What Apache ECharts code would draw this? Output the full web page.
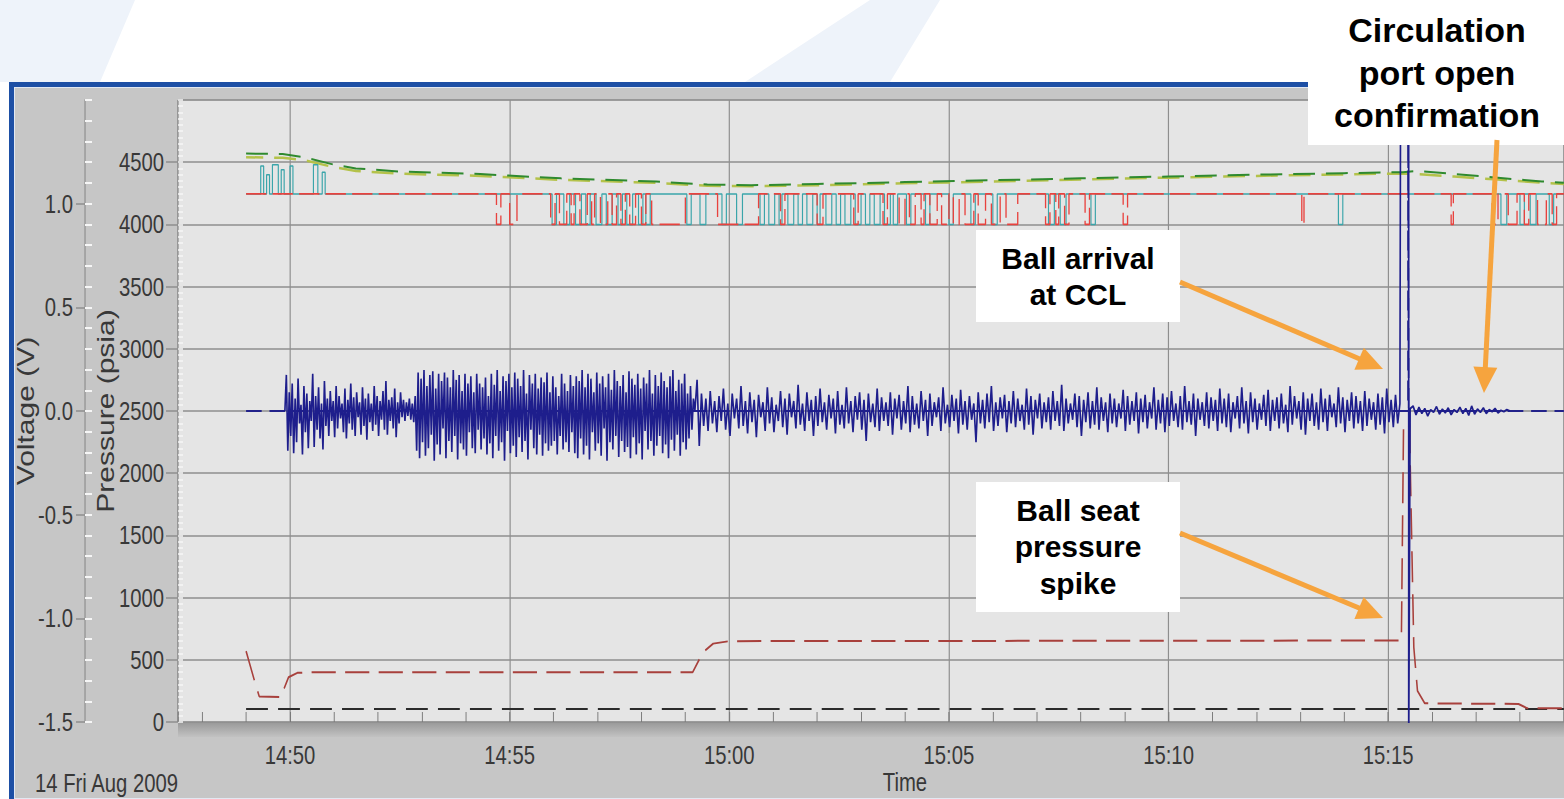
<!DOCTYPE html>
<html>
<head>
<meta charset="utf-8">
<script src="https://cdn.jsdelivr.net/npm/echarts@6/dist/echarts.min.js"></script>
<style>
  html, body { margin: 0; padding: 0; background: #fff; }
  #page { position: relative; width: 1564px; height: 799px; overflow: hidden; background: #fff; }
  .deco { position: absolute; background: #eef3fa; }
  #d1 { left: 0; top: 0; width: 140px; height: 82px; clip-path: polygon(0 0, 135px 0, 100px 82px, 0 82px); }
  #d2 { left: 740px; top: 0; width: 210px; height: 82px; clip-path: polygon(130px 0, 200px 0, 150px 82px, 5px 82px); }
  #frame { position: absolute; left: 9px; top: 82px; width: 1600px; height: 722px; box-sizing: border-box;
           border: 5px solid #1d4fa5; border-bottom-color: #7fa3d8; background: #c6c6c6;
           box-shadow: inset 0 0 0 1px #e2e8f2; }
  #band { position: absolute; left: 178px; top: 722px; width: 1400px; height: 15px;
          background: linear-gradient(#989898, #c2c2c2); }
  #plot { position: absolute; left: 0; top: 0; height: 799px; transform: scaleX(0.78); transform-origin: 0 0; }
  #notes { position: absolute; left: 0; top: 0; width: 1564px; height: 799px; }
</style>
</head>
<body>
<div id="page">
  <div class="deco" id="d1"></div>
  <div class="deco" id="d2"></div>
  <div id="frame"></div>
  <div id="band"></div>
  <div id="plot"></div>
  <div id="notes"></div>
</div>
<script>
// the source picture is squeezed sideways, so the chart is drawn wide and scaled down
const S = 0.78;
const W = Math.round(1564 / S);
const ax = px => px / S;

// ── data ───────────────────────────────────────────────────────────────
const xMin = '14:47:27';
const xMax = '15:19:00';

// flat reference line near the bottom
const blackT = ['14:49:00', '15:19:00'];
const blackP = [105, 105];

// lower dark-red pressure trace (ball seat spike)
const lowT = ['14:49:00','14:49:13','14:49:18','14:49:48','14:49:52','14:49:58','14:50:10','14:50:30',
              '14:59:10','14:59:24','14:59:38','15:00:00','15:15:18','15:15:21','15:15:29','15:15:32',
              '15:15:35','15:15:40','15:15:50','15:17:58','15:18:10','15:19:00'];
const lowP = [570, 300, 205, 200, 270, 360, 395, 400,
              400, 560, 630, 650, 655, 2400, 2400, 1500,
              600, 250, 150, 145, 110, 110];

// two green traces near the top
const greenT = ['14:49:00','14:49:50','14:50:20','14:51:00','14:51:30','14:52:30','14:54:20','14:56:10',
                '14:58:20','14:59:30','15:00:30','15:02:00','15:04:00','15:06:00','15:08:00','15:10:00',
                '15:12:00','15:14:00','15:15:20','15:15:40','15:16:30','15:17:30','15:18:30','15:19:00'];
const greenA = [4570, 4565, 4540, 4480, 4450, 4425, 4405, 4370,
                4345, 4320, 4315, 4325, 4340, 4355, 4370, 4385,
                4400, 4412, 4420, 4430, 4405, 4375, 4345, 4335];
const greenB = [4540, 4535, 4515, 4460, 4430, 4408, 4390, 4358,
                4334, 4310, 4306, 4315, 4330, 4345, 4360, 4376,
                4390, 4402, 4410, 4405, 4385, 4360, 4335, 4325];

// red and teal traces sit at 4245 psi and drop to 4000 in short pulses
const topBase = 4245;
const dipLevel = 4000;
const redDips = [
  ['14:54:42','14:54:48'],['14:55:00','14:55:10'],
  ['14:55:56','14:56:02'],['14:56:08','14:56:18'],['14:56:24','14:56:28'],['14:56:36','14:56:46'],
  ['14:56:52','14:56:56'],['14:57:04','14:57:14'],['14:57:20','14:57:26'],['14:57:32','14:57:38'],
  ['14:57:44','14:57:52'],['14:58:00','14:58:06'],['14:58:14','14:59:00'],['14:59:44','15:00:40'],
  ['15:01:10','15:01:16'],['15:02:00','15:02:08'],['15:02:50','15:02:56'],['15:03:30','15:03:36'],
  ['15:03:52','15:04:00'],['15:04:06','15:04:14'],['15:04:22','15:04:26'],['15:04:34','15:04:44'],
  ['15:04:50','15:05:00'],['15:05:06','15:05:14'],['15:05:22','15:05:34'],['15:05:40','15:05:50'],
  ['15:05:58','15:06:10'],['15:06:18','15:06:34'],
  ['15:07:12','15:07:18'],['15:07:26','15:07:30'],['15:07:38','15:07:44'],
  ['15:08:06','15:08:12'],['15:08:58','15:09:04'],['15:13:02','15:13:05'],['15:16:26','15:16:29'],
  ['15:17:22','15:17:30'],['15:17:44','15:17:56'],['15:18:06','15:18:12'],['15:18:24','15:18:36'],
  ['15:18:44','15:18:50']
];
const tealPulses = [
  ['14:49:20','14:49:24',4470],['14:49:28','14:49:32',4400],['14:49:36','14:49:44',4480],
  ['14:49:48','14:49:52',4440],['14:50:00','14:50:04',4470],['14:50:32','14:50:38',4480],
  ['14:50:44','14:50:48',4420],
  ['14:55:58','14:56:04'],['14:56:14','14:56:22'],['14:56:30','14:56:38'],['14:56:44','14:56:50'],
  ['14:56:58','14:57:06'],['14:57:12','14:57:20'],['14:57:28','14:57:34'],['14:57:40','14:57:48'],
  ['14:57:56','14:58:02'],['14:58:06','14:58:12'],['14:59:02','14:59:08'],['14:59:20','14:59:28'],
  ['14:59:50','14:59:56'],['15:00:10','15:00:18'],
  ['15:00:42','15:00:48'],['15:00:54','15:01:02'],['15:01:08','15:01:12'],['15:01:20','15:01:28'],
  ['15:01:34','15:01:40'],['15:01:46','15:01:54'],['15:02:00','15:02:04'],['15:02:12','15:02:20'],
  ['15:02:26','15:02:32'],['15:02:38','15:02:46'],['15:02:52','15:03:00'],['15:03:06','15:03:12'],
  ['15:03:18','15:03:26'],['15:03:32','15:03:40'],['15:03:44','15:03:50'],
  ['15:04:02','15:04:08'],['15:04:28','15:04:34'],['15:05:00','15:05:06'],['15:05:30','15:05:36'],
  ['15:06:00','15:06:06'],['15:07:16','15:07:24'],['15:07:32','15:07:40'],['15:08:14','15:08:20'],
  ['15:13:52','15:13:58'],
  ['15:17:34','15:17:42'],['15:18:00','15:18:06'],['15:18:14','15:18:22'],['15:18:40','15:18:46']
];

// voltage trace (left axis), dashed, flat at 0 V with one spike
const voltT = ['14:49:00','15:15:27','15:15:27','15:15:28','15:19:00'];
const voltV = [0, 0, 1.6, 0, 0];

// pressure noise before 15:00, one reading every 2 s
const noiseAStart = '14:49:53';
const noiseAStep = 2;
const noiseA = [
  2500,2790,2180,2650,2300,2720,2160,2600,2250,2760,2400,2550,2150,2700,2330,2640,2200,2580,2420,2800,
  2210,2620,2350,2690,2280,2560,2190,2740,2380,2600,2300,2660,2420,2580,2290,2700,2360,2620,2440,2560,
  2330,2680,2280,2590,2400,2720,2350,2610,2300,2650,2450,2570,2310,2690,2380,2600,2270,2640,2410,2560,
  2340,2700,2390,2620,2300,2580,2430,2660,2350,2740,2310,2590,2420,2610,2360,2680,2290,2570,2400,2650,
  2450,2590,2420,2570,2460,2600,2430,2560,2410,2620,2180,2810,2120,2760,2250,2830,2140,2700,2200,2790,
  2310,2820,2100,2680,2230,2800,2150,2740,2360,2810,2120,2770,2260,2690,2170,2830,2300,2750,2110,2790,
  2240,2660,2190,2800,2140,2720,2330,2780,2200,2650,2160,2800,2350,2720,2190,2690,2280,2770,2150,2620,
  2240,2800,2120,2710,2300,2830,2180,2660,2250,2780,2100,2740,2340,2800,2160,2690,2220,2810,2130,2760,
  2290,2700,2170,2830,2260,2640,2110,2790,2350,2720,2200,2800,2150,2680,2310,2770,2140,2730,2240,2810,
  2180,2650,2220,2780,2260,2690,2150,2620,2300,2800,2190,2720,2250,2660,2170,2790,2330,2700,2160,2780,
  2120,2740,2280,2830,2150,2690,2220,2800,2110,2760,2330,2650,2180,2810,2240,2720,2140,2780,2360,2690,
  2100,2800,2250,2670,2190,2830,2300,2740,2130,2700,2260,2790,2170,2650,2210,2820,2120,2760,2290,2710,
  2150,2800,2240,2680,2110,2770,2340,2720,2190,2830,2260,2640,2140,2790,2220,2700,2300,2810,2160,2740,
  2230,2690,2120,2780,2270,2830,2180,2660,2310,2750,2140,2720,2250,2800,2190,2640,2280,2700,2350,2600,
  2500
];
// pressure noise after 15:00, one reading every 3 s
const noiseBStart = '14:59:16';
const noiseBStep = 3;
const noiseB = [
  2750,2220,2640,2380,2600,2340,2660,2400,2580,2330,2620,2420,2680,2350,2560,2300,2640,2440,2600,2360,
  2700,2380,2580,2320,2650,2410,2590,2290,2630,2450,2570,2340,2690,2400,2610,2330,2550,2420,2660,2370,
  2600,2310,2640,2450,2580,2360,2710,2390,2560,2340,2650,2420,2590,2300,2620,2380,2680,2410,2570,2350,
  2630,2440,2600,2320,2660,2390,2550,2360,2690,2400,2580,2330,2620,2430,2650,2350,2590,2260,2640,2410,
  2560,2370,2680,2340,2610,2420,2570,2380,2650,2310,2600,2440,2630,2350,2580,2400,2700,2330,2620,2390,
  2560,2360,2660,2420,2590,2300,2640,2380,2570,2450,2610,2340,2690,2400,2550,2370,2630,2420,2600,2320,
  2670,2390,2580,2350,2620,2430,2560,2250,2650,2400,2590,2360,2640,2410,2700,2340,2570,2380,2610,2440,
  2630,2330,2580,2400,2660,2370,2600,2420,2550,2350,2680,2390,2620,2310,2590,2440,2640,2360,2570,2410,
  2610,2350,2660,2420,2580,2380,2710,2340,2600,2400,2560,2430,2640,2370,2620,2300,2590,2410,2650,2360,
  2580,2390,2690,2350,2610,2420,2570,2330,2640,2400,2600,2370,2560,2440,2670,2340,2620,2390,2580,2420,
  2650,2320,2600,2410,2630,2360,2570,2440,2690,2350,2590,2400,2640,2330,2610,2380,2660,2420,2560,2370,
  2620,2350,2700,2410,2580,2390,2640,2300,2600,2430,2570,2380,2650,2360,2610,2420,2590,2340,2680,2400,
  2600,2370,2640,2330,2570,2440,2620,2360,2690,2400,2580,2320,2650,2410,2600,2350,2560,2430,2630,2380,
  2670,2340,2590,2420,2610,2360,2640,2400,2550,2330,2700,2390,2620,2440,2580,2350,2650,2310,2600,2420,
  2640,2380,2570,2350,2680,2410,2600,2340,2630,2450,2560,2370,2690,2400,2610,2330,2590,2420,2650,2360,
  2620,2400,2580,2340,2660,2380,2600,2430,2570,2350,2640,2390,2610,2320,2680,2410,2590,2370,2630,2400,
  2560
];
// the spike itself, then the quiet tail
const spikeT = ['15:15:17','15:15:28','15:15:28','15:15:30'];
const spikeP = [5300, 5300, -300, 2520];
const tailStart = '15:15:34';
const tailStep = 4;
const tail = [2540,2470,2530,2480,2520,2460,2510,2490,2535,2475,2515,2485,2525,2470,2510,2490,2530,
              2480,2520,2465,2540,2475,2515,2490,2525,2480,2510,2495,2520,2485,2505,2495,2510,2500];

// ── helpers ────────────────────────────────────────────────────────────
// x values are seconds after 14:45:00, so 5-minute ticks fall on round multiples
function sec(s) {
  const [h, m, x] = s.split(':').map(Number);
  return (h - 14) * 3600 + (m - 45) * 60 + (x || 0);
}
function clock(v) {
  const t = Math.round(v) + 14 * 3600 + 45 * 60;
  const h = Math.floor(t / 3600), m = Math.floor((t % 3600) / 60);
  return h + ':' + String(m).padStart(2, '0');
}
const pairs = (ts, vs) => ts.map((t, i) => [sec(t), vs[i]]);
const sampled = (start, step, vs) => vs.map((v, i) => [sec(start) + i * step, v]);
function pulses(list) {
  const pts = [[sec('14:49:00'), topBase]];
  list.forEach(([a, b, lvl]) => {
    const l = lvl === undefined ? dipLevel : lvl;
    pts.push([sec(a), topBase], [sec(a), l], [sec(b), l], [sec(b), topBase]);
  });
  pts.push([sec('15:19:00'), topBase]);
  return pts;
}
const noiseData = [].concat(sampled(noiseAStart, noiseAStep, noiseA), sampled(noiseBStart, noiseBStep, noiseB),
                            pairs(spikeT, spikeP), sampled(tailStart, tailStep, tail));

const FONT = "'Liberation Sans', Arial, sans-serif";
const TXT = '#383838';
const GRIDC = '#8e8e8e';

function line(name, data, style, yIdx) {
  return { name, type: 'line', data, xAxisIndex: 0, yAxisIndex: yIdx || 0, symbol: 'none',
           silent: true, animation: false, lineStyle: style };
}

// ── chart ──────────────────────────────────────────────────────────────
const plotEl = document.getElementById('plot');
plotEl.style.width = W + 'px';
const chart = echarts.init(plotEl, null, { renderer: 'svg' });
chart.setOption({
  animation: false,
  grid: { left: ax(178), right: 0, top: 100, bottom: 77, show: true,
          backgroundColor: '#e5e5e5', borderColor: '#9a9a9a', borderWidth: 1 },
  xAxis: [
    { type: 'value', position: 'bottom', min: sec(xMin), max: sec(xMax), minInterval: 60, maxInterval: 60,
      axisLine: { show: false }, axisLabel: { show: false }, splitLine: { show: false },
      axisTick: { inside: true, length: 10, lineStyle: { color: '#777', width: 1.2 } } },
    { type: 'value', position: 'bottom', min: sec(xMin), max: sec(xMax), minInterval: 300, maxInterval: 300,
      axisLine: { show: false },
      axisTick: { length: 22, lineStyle: { color: GRIDC, width: 1.5 } },
      axisLabel: { margin: 20, fontSize: 26, fontFamily: FONT, color: TXT, formatter: clock,
                   showMinLabel: false, showMaxLabel: false },
      splitLine: { lineStyle: { color: GRIDC, width: 1.5 } } }
  ],
  yAxis: [
    { type: 'value', position: 'left', min: 0, max: 5000, interval: 500,
      axisLine: { show: false },
      axisTick: { length: ax(12), lineStyle: { color: GRIDC, width: 1.5 } },
      axisLabel: { margin: ax(14), fontSize: 26, fontFamily: FONT, color: TXT, showMaxLabel: false,
                   formatter: v => String(v) },
      splitLine: { lineStyle: { color: GRIDC, width: 1.5 } },
      name: 'Pressure (psia)', nameLocation: 'middle', nameGap: 77, nameRotate: 90, nameMoveOverlap: false,
      nameTextStyle: { fontSize: 30, fontFamily: FONT, color: TXT } },
    { type: 'value', position: 'left', offset: ax(178) - ax(85), min: -1.5, max: 1.5, interval: 0.5,
      axisLine: { show: true, lineStyle: { color: GRIDC, width: 1.5 } },
      axisTick: { length: ax(9), lineStyle: { color: GRIDC, width: 1.5 } },
      axisLabel: { margin: ax(12), fontSize: 26, fontFamily: FONT, color: TXT, showMaxLabel: false,
                   formatter: v => v.toFixed(1) },
      splitLine: { show: false },
      name: 'Voltage (V)', nameLocation: 'middle', nameGap: 60, nameRotate: 90, nameMoveOverlap: false,
      nameTextStyle: { fontSize: 30, fontFamily: FONT, color: TXT } },
    { type: 'value', position: 'left', min: 0, max: 5000, interval: 50,
      axisLine: { show: false }, axisLabel: { show: false }, splitLine: { show: false },
      axisTick: { inside: true, length: ax(5), lineStyle: { color: '#f6f6f6', width: 1.5 } } },
    { type: 'value', position: 'left', offset: ax(178) - ax(85), min: -1.5, max: 1.5, interval: 0.1,
      axisLine: { show: false }, axisLabel: { show: false }, splitLine: { show: false },
      axisTick: { inside: true, length: ax(7), lineStyle: { color: '#f6f6f6', width: 2 } } }
  ],
  graphic: [
    { type: 'text', left: ax(35), top: 770,
      style: { text: '14 Fri Aug 2009', fontSize: 26, fontFamily: FONT, fill: TXT } },
    { type: 'text', x: ax(905), y: 782,
      style: { text: 'Time', fontSize: 26, fontFamily: FONT, fill: TXT, align: 'center', verticalAlign: 'middle' } }
  ],
  series: [
    line('Reference', pairs(blackT, blackP), { color: '#2b2b2b', width: 2, type: [28, 13] }),
    line('Seat', pairs(lowT, lowP), { color: '#a8403c', width: 2, type: [31, 12] }),
    line('Upper B', pairs(greenT, greenB), { color: '#b4c24a', width: 2.5, type: [28, 14], dashOffset: 6 }),
    line('Upper A', pairs(greenT, greenA), { color: '#2f8a2f', width: 2, type: [28, 14] }),
    line('Teal', pulses(tealPulses), { color: '#3aa5aa', width: 1.5 }),
    line('Red', pulses(redDips), { color: '#e8423e', width: 1.7, type: [26, 8] }),
    line('Voltage', pairs(voltT, voltV), { color: '#22228a', width: 2, type: [20, 10] }, 1),
    line('Pressure', noiseData, { color: '#1e1e8c', width: 2.1 })
  ]
});

// ── annotations (not squeezed) ─────────────────────────────────────────
const ORANGE = '#f6a43e';
const notes = [
  { box: [1308, -2, 262, 147], text: 'Circulation\nport open\nconfirmation', size: 34, cy: 72.5, lh: 42.5, cx: 1437 },
  { box: [976, 230, 204, 92], text: 'Ball arrival\nat CCL', size: 30, cy: 276, lh: 36, cx: 1078 },
  { box: [976, 482, 204, 130], text: 'Ball seat\npressure\nspike', size: 30, cy: 546.5, lh: 36.5, cx: 1078 }
];
const arrows = [
  [[1180, 282], [1383, 369]],
  [[1180, 533], [1383, 618]],
  [[1497, 140], [1484, 393]]
];
function arrow([x1, y1], [x2, y2]) {
  const dx = x2 - x1, dy = y2 - y1, L = Math.hypot(dx, dy), ux = dx / L, uy = dy / L;
  const hl = 26, hw = 12, bx = x2 - ux * hl, by = y2 - uy * hl;
  return [
    { type: 'line', shape: { x1, y1, x2: bx + ux * 2, y2: by + uy * 2 }, style: { stroke: ORANGE, lineWidth: 5 } },
    { type: 'polygon', shape: { points: [[x2, y2], [bx - uy * hw, by + ux * hw], [bx + uy * hw, by - ux * hw]] },
      style: { fill: ORANGE } }
  ];
}
const noteEls = [];
notes.forEach(n => {
  noteEls.push({ type: 'rect', shape: { x: n.box[0], y: n.box[1], width: n.box[2], height: n.box[3] },
                 style: { fill: '#fff' } });
  noteEls.push({ type: 'text', x: n.cx, y: n.cy,
                 style: { text: n.text, fontSize: n.size, fontWeight: 'bold', fontFamily: FONT, fill: '#000',
                          align: 'center', verticalAlign: 'middle', lineHeight: n.lh } });
});
arrows.forEach(a => noteEls.push(...arrow(a[0], a[1])));

const notesChart = echarts.init(document.getElementById('notes'), null, { renderer: 'svg' });
notesChart.setOption({ graphic: noteEls });
</script>
</body>
</html>
